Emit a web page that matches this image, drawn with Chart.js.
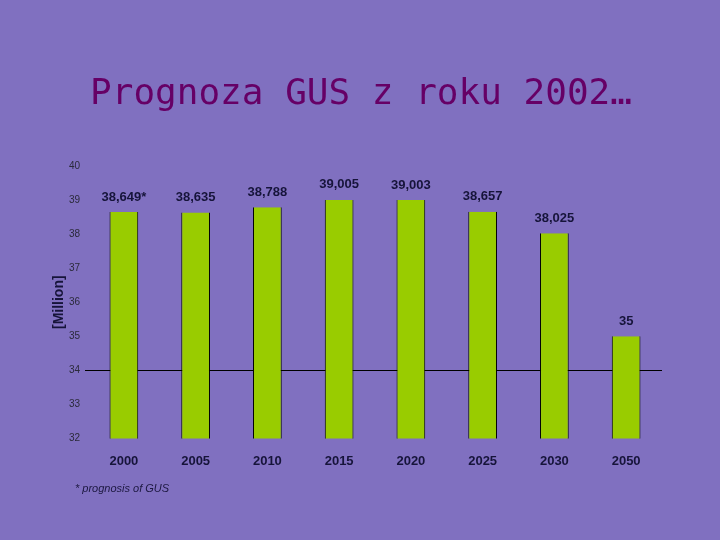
<!DOCTYPE html>
<html>
<head>
<meta charset="utf-8">
<title>Prognoza GUS</title>
<script src="https://cdn.jsdelivr.net/npm/chart.js@4.4.1/dist/chart.umd.min.js"></script>
<style>
    html, body { margin: 0; padding: 0; background: #8070c0; }
    #wrap { position: relative; width: 720px; height: 540px; }
    #title {
        position: absolute; left: 0; top: 71px; width: 722px;
        text-align: center;
        font: 36px "DejaVu Sans Mono", monospace;
        color: #660066;
    }
    #note {
        position: absolute; left: 75px; top: 482px;
        font: italic 11px "Liberation Sans", Arial, sans-serif;
        color: #1c1840;
    }
</style>
</head>
<body>
<div id="wrap">
    <canvas id="chart" width="720" height="540"></canvas>
    <div id="title">Prognoza GUS z roku 2002…</div>
    <div id="note">* prognosis of GUS</div>
</div>
<script>
// Data
const years = ['2000', '2005', '2010', '2015', '2020', '2025', '2030', '2050'];
const population = [38.649, 38.635, 38.788, 39.005, 39.003, 38.657, 38.025, 35];
const footnoteMarks = ['*', '', '', '', '', '', '', ''];
const yMin = 32;
const yMax = 40;
const baseLine = 34; // the horizontal line across the chart

// Polish style number: comma as decimal separator
function formatValue(v) {
    if (Number.isInteger(v)) return String(v);
    return v.toFixed(3).replace('.', ',');
}

// Draws the value above every bar
const valueLabels = {
    id: 'valueLabels',
    afterDatasetsDraw(chart) {
        const ctx = chart.ctx;
        const meta = chart.getDatasetMeta(0);
        ctx.save();
        ctx.font = 'bold 13px "Liberation Sans", Arial, sans-serif';
        ctx.fillStyle = '#16143a';
        ctx.textAlign = 'center';
        ctx.textBaseline = 'middle';
        meta.data.forEach((bar, i) => {
            const text = formatValue(population[i]) + footnoteMarks[i];
            ctx.fillText(text, bar.x, bar.y - 15);
        });
        ctx.restore();
    }
};

const ctx = document.getElementById('chart').getContext('2d');
new Chart(ctx, {
    type: 'bar',
    data: {
        labels: years,
        datasets: [{
            data: population,
            backgroundColor: '#99cc00',
            borderColor: '#000000',
            borderWidth: { left: 1, right: 1, top: 0, bottom: 0 },
            borderSkipped: false,
            barPercentage: 0.4,
            categoryPercentage: 1.0
        }]
    },
    options: {
        responsive: false,
        animation: false,
        layout: {
            padding: { left: 0, right: 58, top: 166, bottom: 56 }
        },
        plugins: {
            legend: { display: false },
            tooltip: { enabled: false }
        },
        scales: {
            x: {
                grid: { display: false, drawTicks: false },
                border: { display: false },
                ticks: {
                    color: '#16143a',
                    padding: 15,
                    font: { family: '"Liberation Sans", Arial, sans-serif', size: 13, weight: 'bold' }
                }
            },
            y: {
                min: yMin,
                max: yMax,
                afterFit(scale) { scale.width = 88; },
                border: { display: false },
                grid: {
                    tickLength: 3,
                    lineWidth: 1,
                    color: c => (c.tick && c.tick.value === baseLine) ? '#000000' : 'rgba(0,0,0,0)'
                },
                ticks: {
                    stepSize: 1,
                    padding: 5,
                    color: '#2a2a3a',
                    font: { family: '"Liberation Sans", Arial, sans-serif', size: 10 }
                },
                title: {
                    display: true,
                    text: '[Million]',
                    color: '#16143a',
                    padding: { top: 51, bottom: 0 },
                    font: { family: '"Liberation Sans", Arial, sans-serif', size: 14, weight: 'bold' }
                }
            }
        }
    },
    plugins: [valueLabels]
});
</script>
</body>
</html>
